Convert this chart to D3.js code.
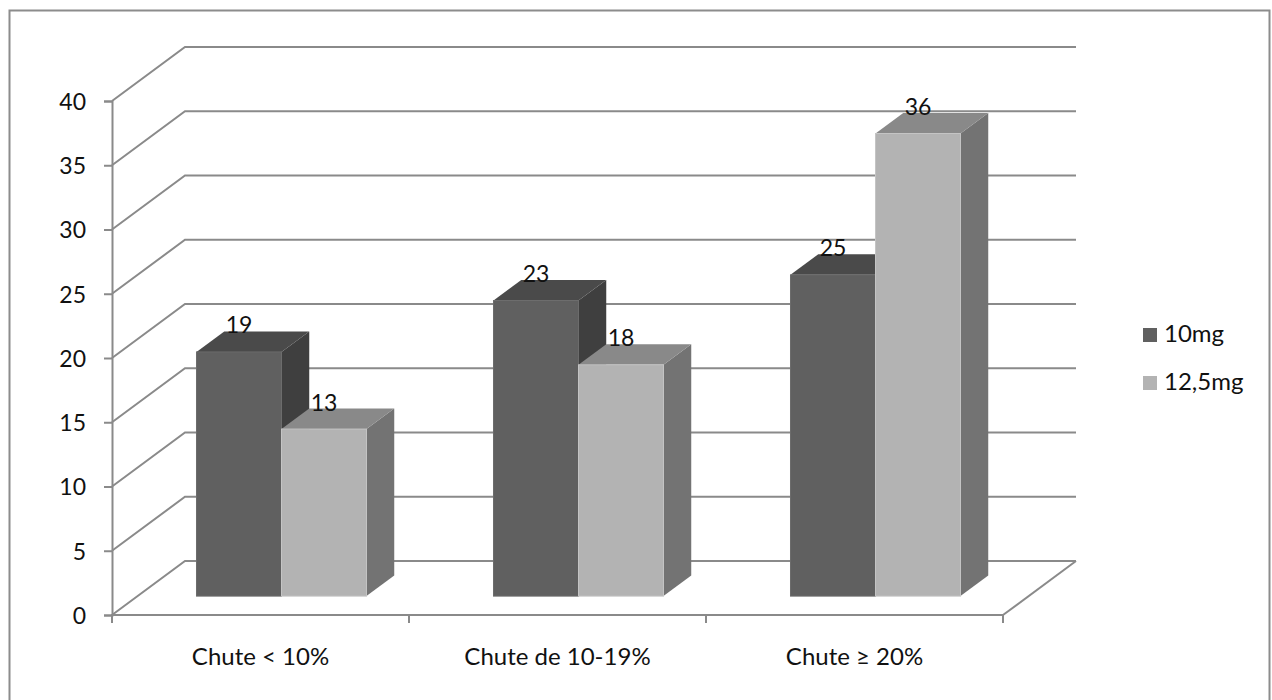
<!DOCTYPE html>
<html>
<head>
<meta charset="utf-8">
<script src="https://cdn.jsdelivr.net/npm/d3@7"></script>
<style>
  html, body { margin: 0; padding: 0; background: #fff; }
  svg text { font-family: Lato, "Open Sans", sans-serif; fill: #111; }
</style>
</head>
<body>
<svg id="chart" width="1272" height="700"></svg>
<script>
// Data
const categories = ["Chute < 10%", "Chute de 10-19%", "Chute \u2265 20%"];
const seriesNames = ["10mg", "12,5mg"];
const values10mg = [19, 23, 25];
const values125mg = [13, 18, 36];
const yTicks = [0, 5, 10, 15, 20, 25, 30, 35, 40];

const seriesValues = [values10mg, values125mg];
const palette = [
  { front: "#606060", top: "#4a4a4a", side: "#3f3f3f", edge: "#6c6c6c" },
  { front: "#b3b3b3", top: "#898989", side: "#737373", edge: "#c4c4c4" }
];

const svg = d3.select("#chart");

// Plot frame: front plane and depth vector of the 3D box
const plotLeft = 112, plotRight = 1003, plotBottom = 615, plotTop = 101;
const depth = { x: 73, y: -54 };
const barFront = 0.35, barBack = 0.73;
const barShiftX = 21;   // horizontal offset of the bar fronts from the front plane

const y = d3.scaleLinear().domain([0, 40]).range([plotBottom, plotTop]);
const x0 = d3.scaleBand().domain(categories).range([plotLeft, plotRight])
  .paddingInner(0.4276).paddingOuter(0.2138);
const x1 = d3.scaleBand().domain(seriesNames).range([0, x0.bandwidth()]);

// Outer border
svg.append("rect")
  .attr("x", 9.5).attr("y", 10.5).attr("width", 1260).attr("height", 710)
  .attr("fill", "#fff").attr("stroke", "#8c8c8c").attr("stroke-width", 2);

const grid = svg.append("g")
  .attr("stroke", "#8a8a8a").attr("stroke-width", 2).attr("fill", "none");

// Side wall and back wall gridlines
yTicks.forEach(t => {
  const yy = y(t);
  grid.append("polyline")
    .attr("points", [[plotLeft, yy], [plotLeft + depth.x, yy + depth.y], [plotRight + depth.x, yy + depth.y]].join(" "));
});
// Floor right edge
grid.append("line")
  .attr("x1", plotRight).attr("y1", plotBottom)
  .attr("x2", plotRight + depth.x).attr("y2", plotBottom + depth.y);

// Y axis (front left edge)
const yAxis = svg.append("g").attr("transform", `translate(${plotLeft},0)`)
  .call(d3.axisLeft(y).tickValues(yTicks).tickSize(8).tickPadding(18));
yAxis.select(".domain").attr("stroke", "#8a8a8a").attr("stroke-width", 2);
yAxis.selectAll(".tick line").attr("stroke", "#8a8a8a").attr("stroke-width", 2);
yAxis.selectAll(".tick text")
  .attr("font-family", "Lato, sans-serif").attr("font-size", 23).attr("fill", "#111")
  .attr("dy", "0.36em");

// X axis (front floor edge) with ticks at category boundaries
const xAxisG = svg.append("g").attr("stroke", "#8a8a8a").attr("stroke-width", 2);
xAxisG.append("line").attr("x1", plotLeft - 1).attr("x2", plotRight + 1)
  .attr("y1", plotBottom).attr("y2", plotBottom);
const boundaries = [plotLeft].concat(categories.map(c => x0(c) + x0.bandwidth() / 2 + x0.step() / 2));
boundaries.forEach(bx => {
  xAxisG.append("line").attr("x1", bx).attr("x2", bx)
    .attr("y1", plotBottom).attr("y2", plotBottom + 8);
});

// Category labels
svg.append("g").selectAll("text").data(categories).join("text")
  .attr("x", d => x0(d) + x0.bandwidth() / 2)
  .attr("y", 665)
  .attr("text-anchor", "middle")
  .attr("font-size", 24)
  .text(d => d);

// 3D bars
const bars = svg.append("g");
const labels = [];
categories.forEach((cat, ci) => {
  seriesNames.forEach((s, si) => {
    const v = seriesValues[si][ci];
    const col = palette[si];
    const fx = x0(cat) + x1(s) + barShiftX;
    const fy0 = y(0) + depth.y * barFront;
    const fy1 = y(v) + depth.y * barFront;
    const w = x1.bandwidth();
    const dx = depth.x * (barBack - barFront);
    const dy = depth.y * (barBack - barFront);
    const g = bars.append("g");
    // right side face
    g.append("polygon")
      .attr("points", [[fx + w, fy1], [fx + w + dx, fy1 + dy], [fx + w + dx, fy0 + dy], [fx + w, fy0]].join(" "))
      .attr("fill", col.side);
    // top face
    g.append("polygon")
      .attr("points", [[fx, fy1], [fx + dx, fy1 + dy], [fx + w + dx, fy1 + dy], [fx + w, fy1]].join(" "))
      .attr("fill", col.top);
    // front face
    g.append("rect")
      .attr("x", fx).attr("y", fy1).attr("width", w).attr("height", fy0 - fy1)
      .attr("fill", col.front).attr("stroke", col.edge).attr("stroke-width", 1);
    labels.push({ x: fx + w / 2, y: fy1 + dy + 2, v });
  });
});

// Value labels
svg.append("g").selectAll("text").data(labels).join("text")
  .attr("x", d => d.x).attr("y", d => d.y)
  .attr("text-anchor", "middle")
  .attr("font-size", 23)
  .text(d => d.v);

// Legend
const legend = svg.append("g").attr("transform", "translate(1143,328)");
seriesNames.forEach((s, i) => {
  legend.append("rect").attr("x", 0).attr("y", i * 48)
    .attr("width", 14).attr("height", 14).attr("fill", palette[i].front);
  legend.append("text").attr("x", 21).attr("y", i * 48 + 14)
    .attr("font-size", 24).text(s);
});
</script>
</body>
</html>
